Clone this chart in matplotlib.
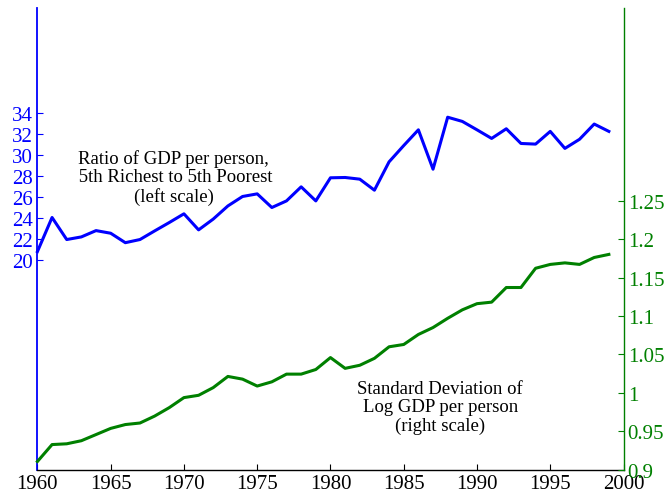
import matplotlib
matplotlib.use("Agg")
import matplotlib.pyplot as plt

plt.rcParams['font.family'] = ['Liberation Serif', 'DejaVu Serif']
plt.rcParams['mathtext.fontset'] = 'stix'

YEARS = list(range(1960, 2000))

# Ratio of GDP per person, 5th richest to 5th poorest (left scale)
RATIO = [20.8, 24.05, 21.95, 22.2, 22.8, 22.55, 21.65, 21.95, 22.77, 23.57,
         24.4, 22.87, 23.9, 25.15, 26.05, 26.3, 25.0, 25.63, 26.97, 25.63,
         27.83, 27.86, 27.7, 26.65, 29.35, 30.9, 32.4, 28.65, 33.6, 33.2,
         32.4, 31.58, 32.5, 31.1, 31.04, 32.25, 30.63, 31.5, 32.95, 32.25]

# Standard deviation of log GDP per person (right scale)
STD_LOG = [0.911, 0.933, 0.934, 0.938, 0.946, 0.954, 0.959, 0.961, 0.970, 0.981,
           0.994, 0.997, 1.007, 1.0215, 1.018, 1.009, 1.0145, 1.0245, 1.0245, 1.0305,
           1.046, 1.032, 1.036, 1.045, 1.060, 1.063, 1.076, 1.085, 1.097, 1.108,
           1.116, 1.118, 1.137, 1.137, 1.162, 1.167, 1.169, 1.167, 1.176, 1.180]

LEFT_TICKS = [20, 22, 24, 26, 28, 30, 32, 34]
RIGHT_TICKS = [0.9, 0.95, 1.0, 1.05, 1.1, 1.15, 1.2, 1.25]
RIGHT_LABELS = ["0.9", "0.95", "1", "1.05", "1.1", "1.15", "1.2", "1.25"]
X_TICKS = [1960, 1965, 1970, 1975, 1980, 1985, 1990, 1995, 2000]

BLUE = "#0000ff"
GREEN = "#008000"

fig = plt.figure(figsize=(6.68, 5.02), dpi=100)
ax1 = fig.add_axes([0.056, 0.0618, 0.8774, 0.9202])
ax2 = ax1.twinx()

ax1.plot(YEARS, RATIO, color=BLUE, lw=2.2, clip_on=False)
ax2.plot(YEARS, STD_LOG, color=GREEN, lw=2.2, clip_on=False)

ax1.set_xlim(1960, 2000)
ax1.set_ylim(0, 44)
ax2.set_ylim(0.9, 1.5)

ax1.set_xticks(X_TICKS)
ax1.set_yticks(LEFT_TICKS)
ax2.set_yticks(RIGHT_TICKS)
ax2.set_yticklabels(RIGHT_LABELS)

for ax in (ax1, ax2):
    ax.spines['top'].set_visible(False)
ax1.spines['right'].set_visible(False)
ax2.spines['left'].set_visible(False)
ax2.spines['bottom'].set_visible(False)
ax1.spines['left'].set_color(BLUE)
ax1.spines['left'].set_linewidth(1.3)
ax2.spines['right'].set_color(GREEN)
ax2.spines['right'].set_linewidth(1.0)
ax1.spines['bottom'].set_linewidth(1.0)

ax1.tick_params(axis='x', direction='in', length=4, labelsize=15, pad=3)
ax1.tick_params(axis='y', direction='in', length=4, labelsize=15, pad=3,
                colors=BLUE)
ax2.tick_params(axis='y', direction='in', length=4, labelsize=15, pad=3,
                colors=GREEN)

ax1.text(1969.3, 27.9, "Ratio of GDP per person,\n 5th Richest to 5th Poorest\n(left scale)",
         ha='center', va='center', fontsize=13.5, linespacing=1.12)
ax2.text(1987.5, 0.982, "Standard Deviation of\nLog GDP per person\n(right scale)",
         ha='center', va='center', fontsize=13.5, linespacing=1.12)

fig.savefig("out.png", dpi=100)
